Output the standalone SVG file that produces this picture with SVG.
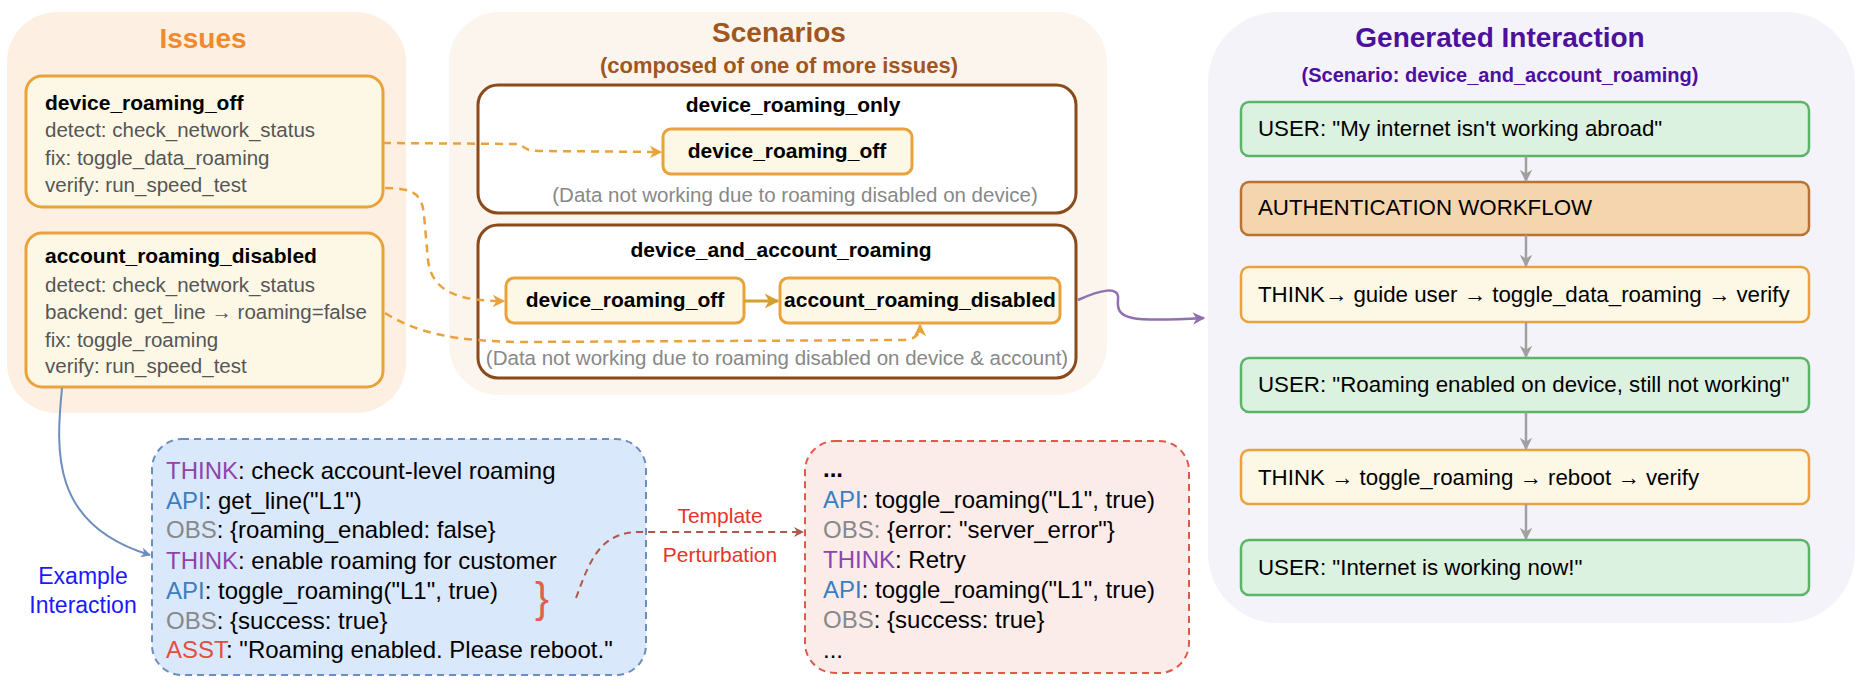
<svg xmlns="http://www.w3.org/2000/svg" width="1872" height="688" viewBox="0 0 1872 688">
<defs>
<style>
text{font-family:"Liberation Sans",Arial,sans-serif;}
.b{font-weight:bold;}
.t{font-size:20.5px;fill:#555;}
.h{font-size:21px;font-weight:bold;fill:#000;}
.cap{font-size:20.5px;fill:#888;}
.m{font-size:24px;fill:#000;}
.gm{font-size:22.3px;fill:#000;}
.issue{fill:#fdf8e6;stroke:#eaa23c;stroke-width:3;}
.scn{fill:#fff;stroke:#8b4a1a;stroke-width:3;}
.dash{fill:none;stroke:#eaa23c;stroke-width:2.5;stroke-dasharray:8 6;}
.g{fill:#dcf2e0;stroke:#5cb46a;stroke-width:2.5;}
.y{fill:#fdf8e6;stroke:#eaa23c;stroke-width:2.5;}
.o{fill:#f5d5ad;stroke:#b87333;stroke-width:2.5;}
.th{fill:#8e44ad}.api{fill:#3a7ebf}.obs{fill:#888}.asst{fill:#e74c3c}
</style>
<marker id="ao" viewBox="0 0 10 10" refX="9" refY="5" markerWidth="5" markerHeight="5" orient="auto"><path d="M0,0 L10,5 L0,10 L3,5z" fill="#eaa23c"/></marker>
<marker id="ag" viewBox="0 0 10 10" refX="9" refY="5" markerWidth="5" markerHeight="5" orient="auto"><path d="M0,0 L10,5 L0,10 L3,5z" fill="#d4a030"/></marker>
<marker id="agr" viewBox="0 0 10 10" refX="9" refY="5" markerWidth="5" markerHeight="5" orient="auto"><path d="M0,0 L10,5 L0,10 L3,5z" fill="#a0a0a0"/></marker>
<marker id="ap" viewBox="0 0 10 10" refX="9" refY="5" markerWidth="5" markerHeight="5" orient="auto"><path d="M0,0 L10,5 L0,10 L3,5z" fill="#9070b0"/></marker>
<marker id="ab" viewBox="0 0 10 10" refX="9" refY="5" markerWidth="5" markerHeight="5" orient="auto"><path d="M0,0 L10,5 L0,10 L3,5z" fill="#6c8ebf"/></marker>
<marker id="ar" viewBox="0 0 10 10" refX="9" refY="5" markerWidth="5" markerHeight="5" orient="auto"><path d="M0,0 L10,5 L0,10 L3,5z" fill="#b0584a"/></marker>
</defs>
<rect width="1872" height="688" fill="#fff"/>

<g id="panel-issues">
<rect x="7" y="12" width="399" height="401" rx="50" fill="#fdf0e2"/>
<text x="203" y="48" text-anchor="middle" class="b" font-size="28" fill="#f08a30">Issues</text>
</g>
<g id="issue-device">
<rect class="issue" x="26" y="76" width="357" height="131" rx="16"/>
<text x="45" y="110" class="h">device_roaming_off</text>
<text x="45" y="137" class="t">detect: check_network_status</text>
<text x="45" y="165" class="t">fix: toggle_data_roaming</text>
<text x="45" y="192" class="t">verify: run_speed_test</text>
</g>
<g id="issue-account">
<rect class="issue" x="26" y="233" width="357" height="154" rx="16"/>
<text x="45" y="263" class="h">account_roaming_disabled</text>
<text x="45" y="292" class="t">detect: check_network_status</text>
<text x="45" y="319" class="t">backend: get_line → roaming=false</text>
<text x="45" y="347" class="t">fix: toggle_roaming</text>
<text x="45" y="373" class="t">verify: run_speed_test</text>
</g>

<g id="panel-scenarios">
<rect x="449" y="12" width="658" height="383" rx="50" fill="#fbf5ee"/>
<text x="779" y="42" text-anchor="middle" class="b" font-size="28" fill="#a0561e">Scenarios</text>
<text x="779" y="73" text-anchor="middle" class="b" font-size="22" fill="#a0561e">(composed of one of more issues)</text>
</g>
<g id="scenario-device">
<rect class="scn" x="478" y="85" width="598" height="128" rx="20"/>
<text x="793" y="112" text-anchor="middle" class="h">device_roaming_only</text>
<rect class="issue" x="663" y="129" width="249" height="45" rx="8" stroke-width="2.5"/>
<text x="787" y="158" text-anchor="middle" class="h" font-size="20">device_roaming_off</text>
<text x="795" y="202" text-anchor="middle" class="cap">(Data not working due to roaming disabled on device)</text>
</g>
<g id="scenario-both">
<rect class="scn" x="478" y="225" width="598" height="153" rx="20"/>
<text x="781" y="257" text-anchor="middle" class="h">device_and_account_roaming</text>
<rect class="issue" x="506" y="278" width="238" height="45" rx="8" stroke-width="2.5"/>
<text x="625" y="307" text-anchor="middle" class="h" font-size="20">device_roaming_off</text>
<rect class="issue" x="780" y="278" width="280" height="45" rx="8" stroke-width="2.5"/>
<text x="920" y="307" text-anchor="middle" class="h" font-size="20">account_roaming_disabled</text>
<text x="777" y="365" text-anchor="middle" class="cap">(Data not working due to roaming disabled on device &amp; account)</text>
</g>

<g id="panel-generated">
<rect x="1208" y="12" width="647" height="611" rx="70" fill="#f5f3fa"/>
<text x="1500" y="47" text-anchor="middle" class="b" font-size="28" fill="#4c0f9e">Generated Interaction</text>
<text x="1500" y="82" text-anchor="middle" class="b" font-size="20" fill="#4c0f9e">(Scenario: device_and_account_roaming)</text>
</g>
<g id="gen-1"><rect class="g" x="1241" y="102" width="568" height="54" rx="8"/><text x="1258" y="136" class="gm">USER: "My internet isn't working abroad"</text></g>
<g id="gen-2"><rect class="o" x="1241" y="182" width="568" height="53" rx="8"/><text x="1258" y="215" class="gm">AUTHENTICATION WORKFLOW</text></g>
<g id="gen-3"><rect class="y" x="1241" y="267" width="568" height="55" rx="8"/><text x="1258" y="302" class="gm">THINK→ guide user → toggle_data_roaming → verify</text></g>
<g id="gen-4"><rect class="g" x="1241" y="358" width="568" height="54" rx="8"/><text x="1258" y="392" class="gm">USER: "Roaming enabled on device, still not working"</text></g>
<g id="gen-5"><rect class="y" x="1241" y="450" width="568" height="54" rx="8"/><text x="1258" y="485" class="gm">THINK → toggle_roaming → reboot → verify</text></g>
<g id="gen-6"><rect class="g" x="1241" y="540" width="568" height="55" rx="8"/><text x="1258" y="575" class="gm">USER: "Internet is working now!"</text></g>

<g id="example">
<rect x="152" y="439" width="494" height="236" rx="30" fill="#dae8fc" stroke="#6c8ebf" stroke-width="2" stroke-dasharray="7 5"/>
<text x="166" y="479" class="m"><tspan class="th">THINK</tspan>: check account-level roaming</text>
<text x="166" y="509" class="m"><tspan class="api">API</tspan>: get_line("L1")</text>
<text x="166" y="538" class="m"><tspan class="obs">OBS</tspan>: {roaming_enabled: false}</text>
<text x="166" y="569" class="m"><tspan class="th">THINK</tspan>: enable roaming for customer</text>
<text x="166" y="599" class="m"><tspan class="api">API</tspan>: toggle_roaming("L1", true)</text>
<text x="166" y="629" class="m"><tspan class="obs">OBS</tspan>: {success: true}</text>
<text x="166" y="658" class="m"><tspan class="asst">ASST</tspan>: "Roaming enabled. Please reboot."</text>
<text x="542" y="612" text-anchor="middle" font-size="42" fill="#e06050">}</text>
</g>
<g id="perturbed">
<rect x="805" y="441" width="384" height="232" rx="30" fill="#fbecea" stroke="#e05a4a" stroke-width="2" stroke-dasharray="7 5"/>
<text x="823" y="477" class="m b">...</text>
<text x="823" y="508" class="m"><tspan class="api">API</tspan>: toggle_roaming("L1", true)</text>
<text x="823" y="538" class="m"><tspan class="obs">OBS:</tspan> {error: "server_error"}</text>
<text x="823" y="568" class="m"><tspan class="th">THINK</tspan>: Retry</text>
<text x="823" y="598" class="m"><tspan class="api">API</tspan>: toggle_roaming("L1", true)</text>
<text x="823" y="628" class="m"><tspan class="obs">OBS</tspan>: {success: true}</text>
<text x="823" y="658" class="m">...</text>
</g>
<g id="labels">
<text x="83" y="584" text-anchor="middle" font-size="23" fill="#1a1aff">Example</text>
<text x="83" y="613" text-anchor="middle" font-size="23" fill="#1a1aff">Interaction</text>
<text x="720" y="523" text-anchor="middle" font-size="21" fill="#e8332a">Template</text>
<text x="720" y="562" text-anchor="middle" font-size="21" fill="#e8332a">Perturbation</text>
</g>

<g id="connectors">
<path class="dash" d="M383,143 L520,144 C526,150 530,151 540,151 L661,152" marker-end="url(#ao)"/>
<path class="dash" d="M385,188 C415,188 422,195 424,215 L428,260 C432,295 465,301 504,301" marker-end="url(#ao)"/>
<path class="dash" d="M385,313 C420,335 460,341 520,342 L900,340 C915,340 920,336 920,325" marker-end="url(#ao)"/>
<path d="M744,301 L778,301" stroke="#d4a030" stroke-width="3" fill="none" marker-end="url(#ag)"/>
<path d="M1078,300 C1100,290 1120,285 1118,300 C1116,320 1130,322 1204,318" stroke="#9070b0" stroke-width="2.5" fill="none" marker-end="url(#ap)"/>
<path d="M62,388 C56,450 50,525 150,555" stroke="#6c8ebf" stroke-width="2" fill="none" marker-end="url(#ab)"/>
<path d="M576,598 C590,560 600,532 640,532 L803,532" stroke="#b0584a" stroke-width="2" stroke-dasharray="7 5" fill="none" marker-end="url(#ar)"/>
<g stroke="#a0a0a0" stroke-width="2.5" fill="none">
<path d="M1526,156 L1526,181" marker-end="url(#agr)"/>
<path d="M1526,235 L1526,266" marker-end="url(#agr)"/>
<path d="M1526,322 L1526,357" marker-end="url(#agr)"/>
<path d="M1526,412 L1526,449" marker-end="url(#agr)"/>
<path d="M1526,504 L1526,539" marker-end="url(#agr)"/>
</g>
</g>
</svg>
